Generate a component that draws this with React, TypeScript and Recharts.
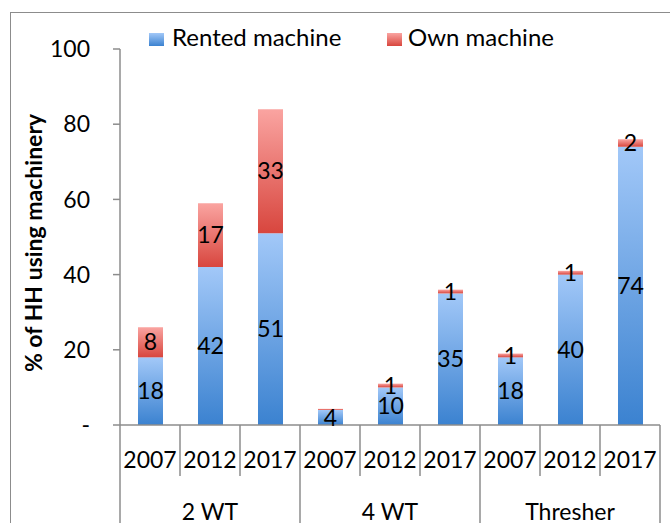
import React from 'react';
import { BarChart, Bar, XAxis, YAxis, Legend, LabelList } from 'recharts';

const groups = ['2 WT', '4 WT', 'Thresher'];
const years = ['2007', '2012', '2017'];
const rented = [18, 42, 51, 4, 10, 35, 18, 40, 74];
const own = [8, 17, 33, 0.3, 1, 1, 1, 1, 2];
const yTicks = [0, 20, 40, 60, 80, 100];

const data = rented.map((r, i) => ({
  key: `${groups[Math.floor(i / 3)]}-${years[i % 3]}`,
  year: years[i % 3],
  group: groups[Math.floor(i / 3)],
  rented: r,
  own: own[i],
}));

const FONT = 'Lato, "Open Sans", sans-serif';
const GRID = '#8c8c8c';
const BAND = 60;

const AxisTick = (props: any) => {
  const { x, y, index } = props;
  const d = data[index];
  if (!d) return null;
  const left = x - BAND / 2;
  const groupStart = index % 3 === 0;
  return (
    <g>
      <line x1={left} x2={left} y1={y} y2={groupStart ? y + 110 : y + 51} stroke={GRID} strokeWidth={1.5} />
      {index === data.length - 1 && (
        <line x1={x + BAND / 2} x2={x + BAND / 2} y1={y} y2={y + 110} stroke={GRID} strokeWidth={1.5} />
      )}
      <text x={x} y={y + 43} textAnchor="middle" fontFamily={FONT} fontSize={23} fill="#000">
        {d.year}
      </text>
      {index % 3 === 1 && (
        <text x={x} y={y + 95} textAnchor="middle" fontFamily={FONT} fontSize={23} fill="#000">
          {d.group}
        </text>
      )}
    </g>
  );
};

const LegendContent = () => (
  <svg width={430} height={30} style={{ display: 'block' }}>
    <rect x={0} y={7} width={15} height={13} fill="url(#rentedGrad)" />
    <text x={23} y={20} fontFamily={FONT} fontSize={24} fill="#000">Rented machine</text>
    <rect x={238} y={7} width={15} height={13} fill="url(#ownGrad)" />
    <text x={259} y={20} fontFamily={FONT} fontSize={24} fill="#000">Own machine</text>
  </svg>
);

const YTitle = () => (
  <text
    x={33}
    y={243}
    transform="rotate(-90 33 243)"
    textAnchor="middle"
    dominantBaseline="central"
    fontFamily={FONT}
    fontSize={23}
    fontWeight="bold"
    fill="#000"
  >
    % of HH using machinery
  </text>
);

export default function App() {
  return (
    <div style={{ position: 'absolute', left: 0, top: 0, width: 670, height: 523, overflow: 'hidden', background: '#fff' }}>
      <div
        style={{
          position: 'absolute',
          left: 10,
          top: 12,
          width: 700,
          height: 600,
          border: `1.5px solid ${GRID}`,
        }}
      />
      <BarChart
        width={670}
        height={523}
        data={data}
        margin={{ top: 49, right: 10, bottom: 0, left: 0 }}
        barSize={25}
        style={{ position: 'absolute', left: 0, top: 0 }}
      >
        <defs>
          <linearGradient id="rentedGrad" x1="0" y1="0" x2="0" y2="1">
            <stop offset="0%" stopColor="#a2c8f8" />
            <stop offset="100%" stopColor="#3b82d0" />
          </linearGradient>
          <linearGradient id="ownGrad" x1="0" y1="0" x2="0" y2="1">
            <stop offset="0%" stopColor="#faa4a1" />
            <stop offset="100%" stopColor="#d8463e" />
          </linearGradient>
        </defs>
        <XAxis
          dataKey="key"
          height={98}
          interval={0}
          tickLine={false}
          tickSize={0}
          tickMargin={0}
          axisLine={{ stroke: GRID, strokeWidth: 1.5 }}
          tick={<AxisTick />}
        />
        <YAxis
          width={120}
          domain={[0, 100]}
          ticks={yTicks}
          interval={0}
          tickSize={7}
          tickMargin={23}
          tickFormatter={(v: number) => (v === 0 ? '-' : String(v))}
          axisLine={{ stroke: GRID, strokeWidth: 1.5 }}
          tickLine={{ stroke: GRID, strokeWidth: 1.5 }}
          tick={{ fill: '#000', fontSize: 23, fontFamily: FONT }}
          label={{ content: () => <YTitle /> }}
        />
        <Legend
          layout="horizontal"
          verticalAlign="middle"
          align="center"
          content={<LegendContent />}
          wrapperStyle={{ position: 'absolute', top: 26, left: 149, width: 'auto' }}
        />
        <Bar dataKey="rented" stackId="a" fill="url(#rentedGrad)" isAnimationActive={false}>
          <LabelList dataKey="rented" position="center" fill="#000" fontSize={23} fontFamily={FONT} />
        </Bar>
        <Bar dataKey="own" stackId="a" fill="url(#ownGrad)" isAnimationActive={false}>
          <LabelList
            dataKey="own"
            position="center"
            fill="#000"
            fontSize={23}
            fontFamily={FONT}
            formatter={(v: any) => (Math.round(Number(v)) === 0 ? '' : v)}
          />
        </Bar>
      </BarChart>
    </div>
  );
}
